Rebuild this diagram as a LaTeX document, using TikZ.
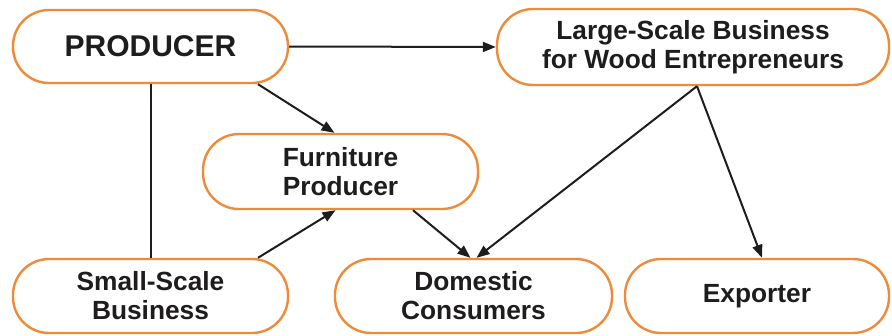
\documentclass[tikz,border=0pt]{standalone}
\usepackage{fontspec}
\setmainfont{Liberation Sans}
\usetikzlibrary{arrows.meta,positioning}
\definecolor{boxorange}{RGB}{238,139,58}
\definecolor{inkdark}{RGB}{30,28,28}
\tikzset{
  pill/.style={draw=boxorange, line width=2.4pt, fill=white, rounded corners=36pt,
    inner sep=0pt, align=center, text=inkdark,
    font=\fontsize{26.3}{29}\selectfont\bfseries},
  conn/.style={draw=inkdark, line width=2pt},
  arr/.style={conn, -{Triangle[length=13pt,width=10pt]}}
}
\begin{document}
\begin{tikzpicture}[x=1pt,y=-1pt]
\useasboundingbox (0,0) rectangle (892,335);
\node[pill, minimum width=275pt, minimum height=73pt, font=\fontsize{30}{34}\selectfont\bfseries] (prod) at (150.5,46.5) {PRODUCER};
\node[pill, minimum width=392pt, minimum height=76pt] (large) at (693,47) {Large-Scale Business\\for Wood Entrepreneurs};
\node[pill, minimum width=275pt, minimum height=75pt] (furn) at (340.5,171.5) {Furniture\\Producer};
\node[pill, minimum width=275pt, minimum height=74pt] (small) at (150.5,296) {Small-Scale\\Business};
\node[pill, minimum width=277pt, minimum height=74pt] (dom) at (473.5,296) {Domestic\\Consumers};
\node[pill, minimum width=264pt, minimum height=74pt] (exp) at (757,296) {Exporter};
\draw[arr] (prod.east) -- (large.west);
\draw[arr] ([xshift=107.5pt]prod.south) -- ([xshift=-6pt]furn.north);
\draw[conn] (prod.south) -- (small.north);
\draw[arr] ([xshift=107.5pt]small.north) -- ([xshift=-5pt]furn.south);
\draw[arr] ([xshift=72.5pt]furn.south) -- ([xshift=-3pt]dom.north);
\draw[arr] ([xshift=4pt]large.south) -- ([xshift=3pt]dom.north);
\draw[arr] ([xshift=4pt]large.south) -- ([xshift=5pt]exp.north);
\end{tikzpicture}
\end{document}
